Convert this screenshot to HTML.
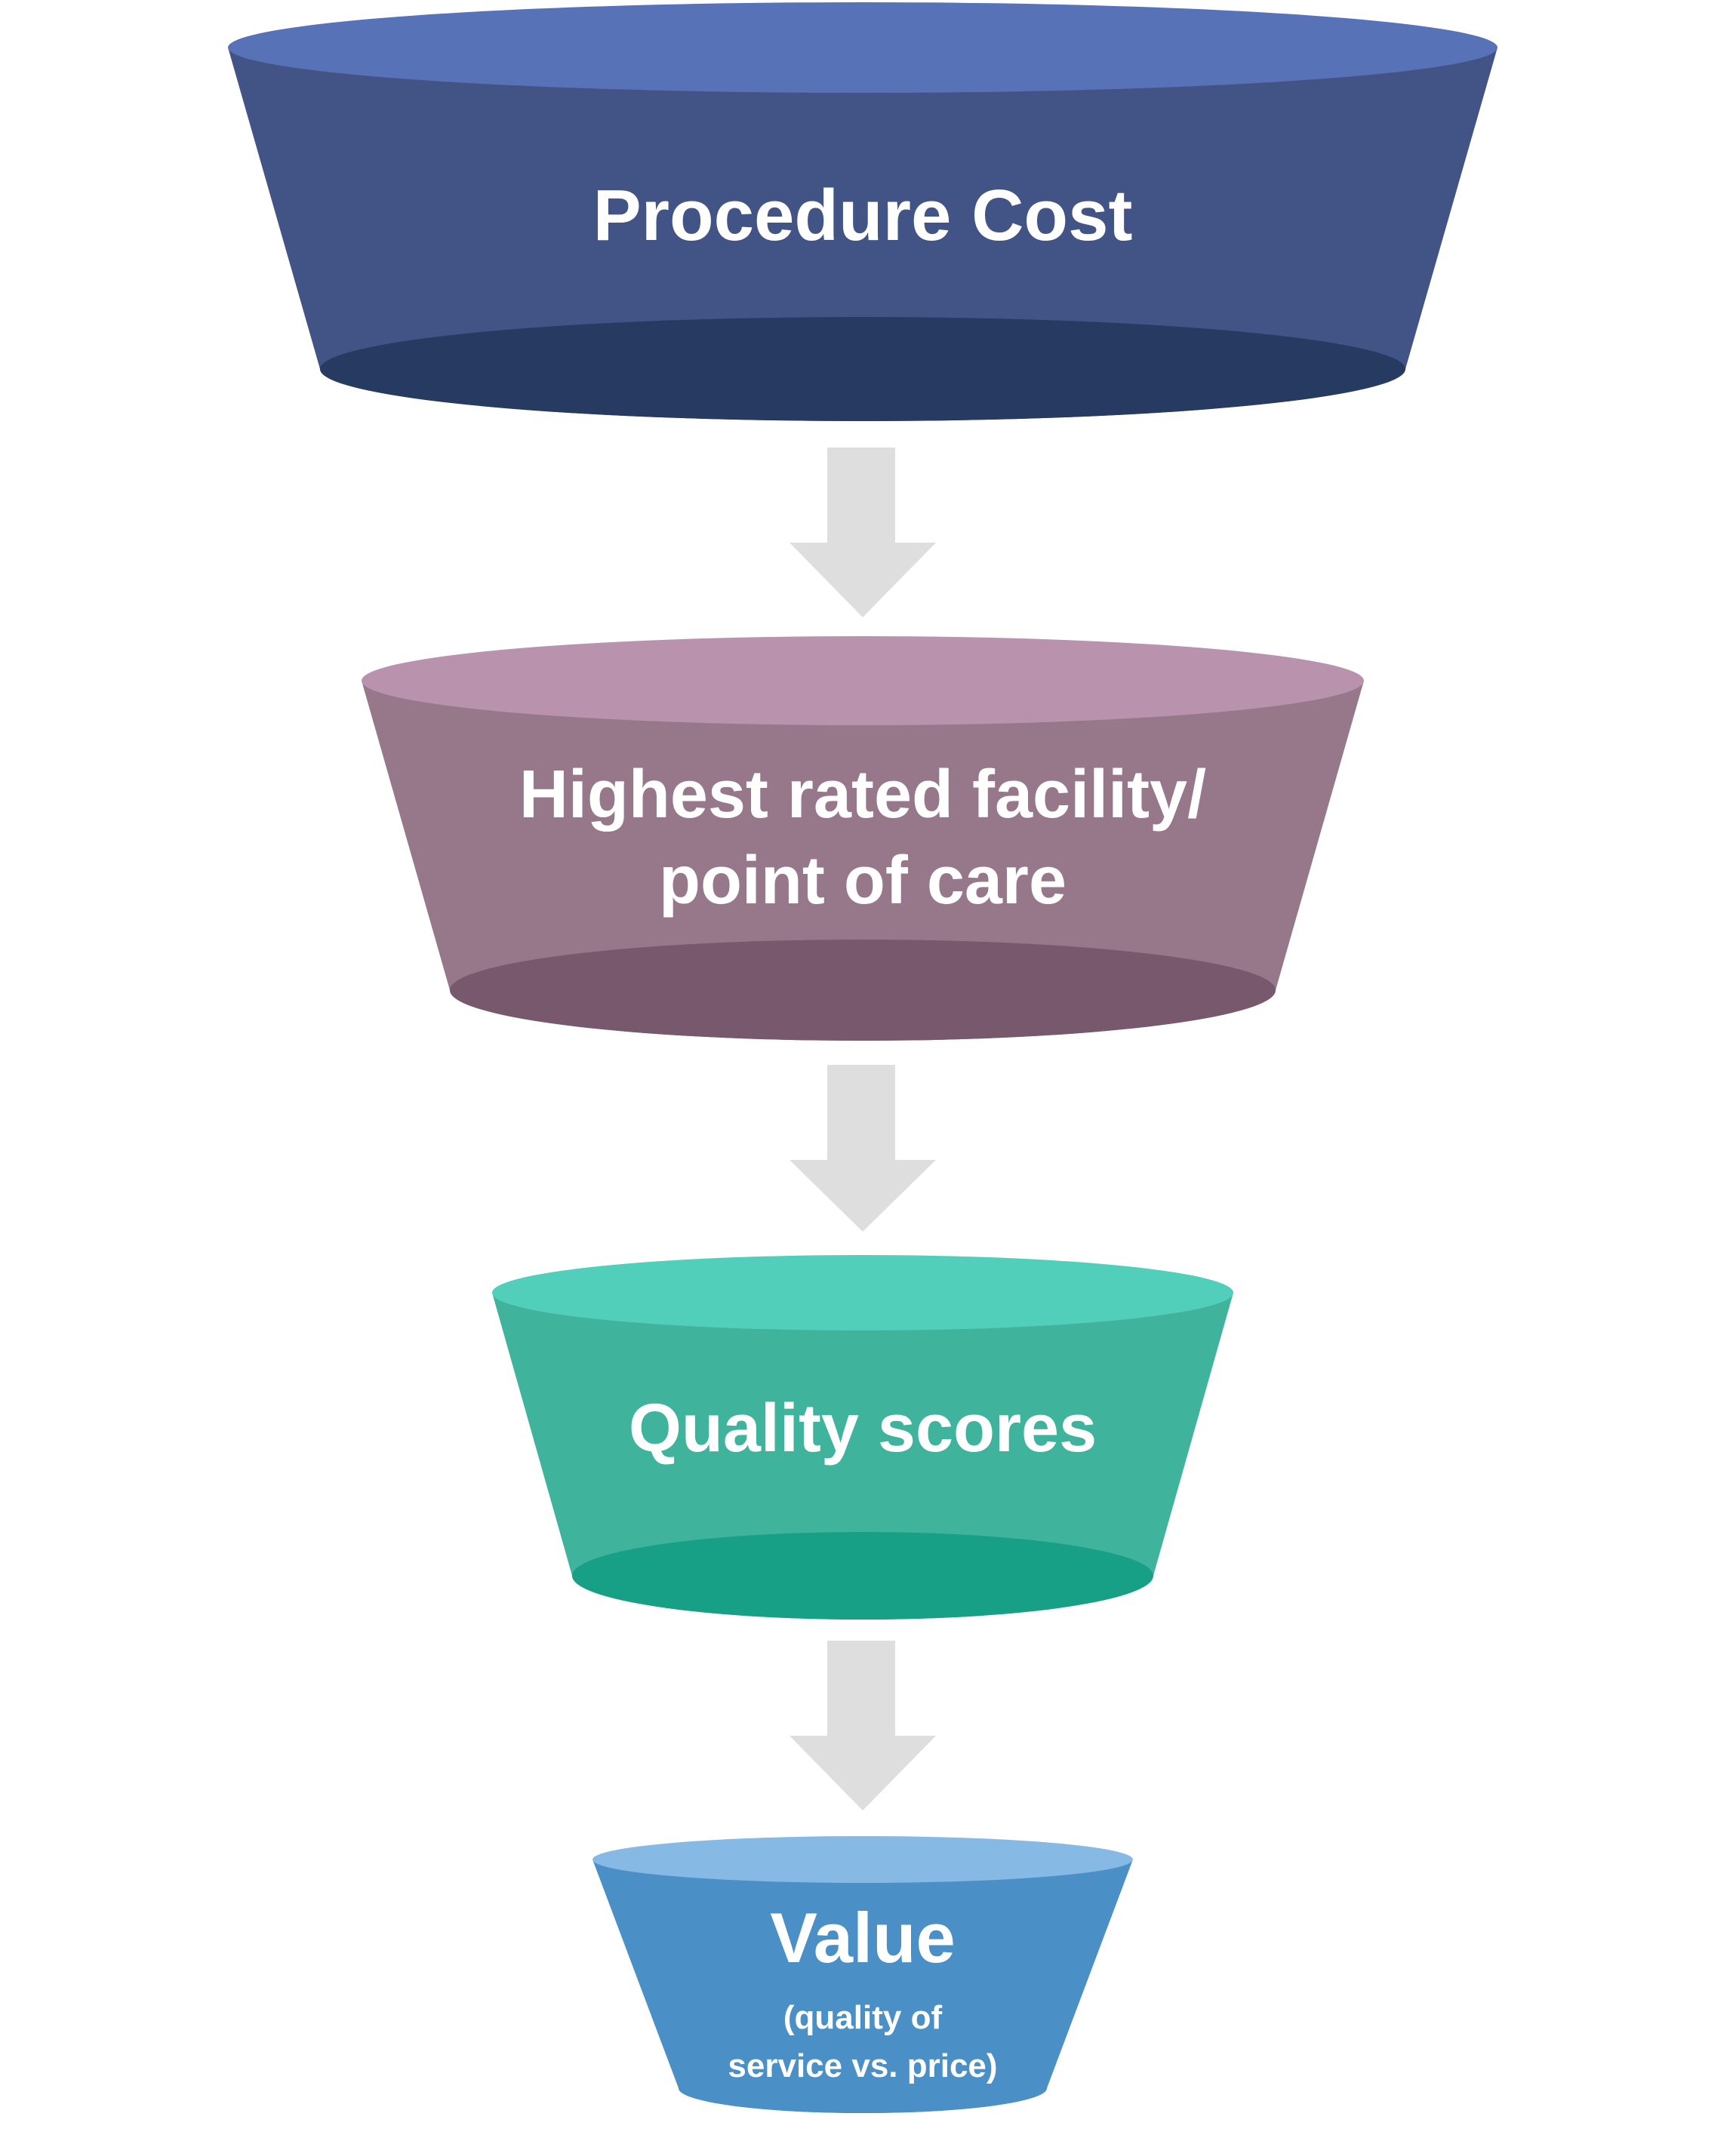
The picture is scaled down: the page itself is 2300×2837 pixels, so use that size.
<!DOCTYPE html>
<html><head><meta charset="utf-8"><style>
html,body{margin:0;padding:0;background:#fff;}
svg{display:block;}
text{font-family:"Liberation Sans",sans-serif;fill:#fff;text-anchor:middle;font-weight:bold;}
</style></head><body>
<svg width="2300" height="2837" viewBox="0 0 2300 2837" xmlns="http://www.w3.org/2000/svg">
<!-- Funnel 1 -->
<path d="M302 63 L424 489 A719 69 0 0 0 1862 489 L1984 63 Z" fill="#425486"/>
<ellipse cx="1143" cy="489" rx="719" ry="69" fill="#273a61"/>
<ellipse cx="1143" cy="63" rx="841" ry="60" fill="#5872b7"/>
<text x="1143" y="318" font-size="96">Procedure Cost</text>
<!-- Arrow 1 -->
<polygon points="1096,593 1186,593 1186,719 1240,719 1143,818 1046,719 1096,719" fill="#dedede"/>
<!-- Funnel 2 -->
<path d="M479 902 L596 1312 A547 67 0 0 0 1690 1312 L1807 902 Z" fill="#97788b"/>
<ellipse cx="1143" cy="1312" rx="547" ry="67" fill="#77586c"/>
<ellipse cx="1143" cy="902" rx="664" ry="59" fill="#b992ae"/>
<text x="1143" y="1083" font-size="90">Highest rated facility/</text>
<text x="1143" y="1197" font-size="90">point of care</text>
<!-- Arrow 2 -->
<polygon points="1096,1411 1186,1411 1186,1537 1240,1537 1143,1632 1046,1537 1096,1537" fill="#dedede"/>
<!-- Funnel 3 -->
<path d="M652 1713 L758 2088 A385 58 0 0 0 1528 2088 L1634 1713 Z" fill="#3fb39c"/>
<ellipse cx="1143" cy="2088" rx="385" ry="58" fill="#17a086"/>
<ellipse cx="1143" cy="1713" rx="491" ry="50" fill="#52cfbb"/>
<text x="1143" y="1923" font-size="90">Quality scores</text>
<!-- Arrow 3 -->
<polygon points="1096,2174 1186,2174 1186,2300 1240,2300 1143,2399 1046,2300 1096,2300" fill="#dedede"/>
<!-- Funnel 4 -->
<path d="M785 2464 L899 2767 A244 33 0 0 0 1387 2767 L1501 2464 Z" fill="#4a90c6"/>
<ellipse cx="1143" cy="2767" rx="244" ry="33" fill="#4a90c6"/>
<ellipse cx="1143" cy="2464" rx="358" ry="31" fill="#86b9e4"/>
<text x="1143" y="2600" font-size="94">Value</text>
<text x="1143" y="2688" font-size="44">(quality of</text>
<text x="1143" y="2752" font-size="44">service vs. price)</text>
</svg>
</body></html>
